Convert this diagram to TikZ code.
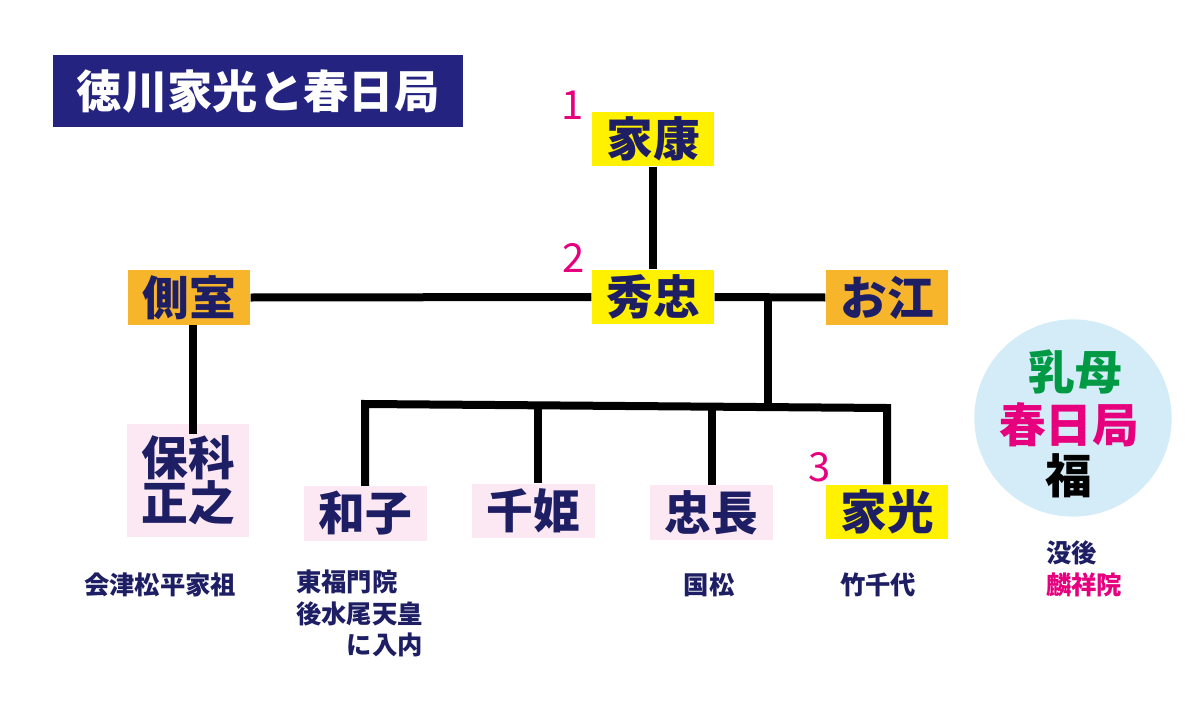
\documentclass[tikz,border=0pt]{standalone}
\usepackage{fontspec}
\setmainfont{Noto Sans CJK JP}
\definecolor{navy}{RGB}{30,30,100}
\definecolor{titlebg}{RGB}{36,36,128}
\definecolor{ylw}{RGB}{255,241,0}
\definecolor{org}{RGB}{247,181,44}
\definecolor{lpink}{RGB}{252,232,242}
\definecolor{mag}{RGB}{230,0,126}
\definecolor{grn}{RGB}{0,153,68}
\definecolor{lblue}{RGB}{212,236,248}
\tikzset{
  person/.style={inner sep=0pt, minimum width=92pt, minimum height=41pt, text=navy,
    font=\fontsize{35}{34}\selectfont\bfseries, align=center},
  mainline/.style={person, fill=ylw},
  spouse/.style={person, fill=org},
  child/.style={person, fill=lpink},
  num/.style={text=mag, font=\fontsize{30}{30}\selectfont, inner sep=0pt},
  note/.style={text=navy, font=\fontsize{19}{23}\selectfont\bfseries, inner sep=0pt},
  circtext/.style={font=\fontsize{35}{34}\selectfont\bfseries, inner sep=0pt},
  link/.style={line width=6pt, black},
}
\begin{document}
\begin{tikzpicture}[x=0.75pt,y=-0.75pt]
\useasboundingbox (0,0) rectangle (1200,721);
% title
\node[fill=titlebg, minimum width=307.5pt, minimum height=54pt, inner sep=0pt,
  text=white, font=\fontsize{34}{36}\selectfont\bfseries] (title) at (258,91) {徳川家光と春日局};
% people
\node[mainline] (ieyasu) at (653,139) {家康};
\node[mainline] (hidetada) at (653,297) {秀忠};
\node[spouse] (sokushitsu) at (189,297.5) {側室};
\node[spouse] (oe) at (887,297.5) {お江};
\node[child, minimum height=85pt] (hoshina) at (188,480.5) {保科\\正之};
\node[child] (kazuko) at (365.5,513.5) {和子};
\node[child] (senhime) at (533.5,511) {千姫};
\node[child] (tadanaga) at (711.5,512.5) {忠長};
\node[mainline] (iemitsu) at (887,512) {家光};
% numbers
\node[num] (n1) at (573,105) {1};
\node[num] (n2) at (574,258) {2};
\node[num] (n3) at (820,467) {3};
% connectors
\coordinate (m) at (768,296);
\coordinate (bar) at (768,405);
\coordinate (barL) at (365,404);
\coordinate (barR) at (887,408);
\coordinate (dSen) at (538,405);
\coordinate (dTad) at (712,406);
\coordinate (hEnd) at (193,434);
\draw[link] (ieyasu.south) -- (hidetada.north);
\draw[link] (sokushitsu.east) -- (hidetada.west);
\draw[link] (hidetada.east) -- (oe.west);
\draw[link] (m) -- (bar);
\draw[link] (barL |- kazuko.north) -- (barL) -- (barR) -- (barR |- iemitsu.north);
\draw[link] (dSen) -- (dSen |- senhime.north);
\draw[link] (dTad) -- (dTad |- tadanaga.north);
\draw[link] (sokushitsu.south -| hEnd) -- (hEnd);
% nurse circle
\node[circle, fill=lblue, minimum size=148pt, inner sep=0pt] (nurse) at (1073,418) {};
\node[circtext, text=grn] (menoto) at (1075,372) {乳母};
\node[circtext, text=mag] (kasuga) at (1069,425) {春日局};
\node[circtext, text=black] (fuku) at (1069,476) {福};
% notes
\node[note] (aizu) at (160,585) {会津松平家祖};
\node[note, anchor=west] (tofuku) at (296,582) {東福門院};
\node[note, anchor=west] (gomizuno) at (296,614) {後水尾天皇};
\node[note, anchor=east] (judai) at (423,645) {に入内};
\node[note] (kunimatsu) at (709,585) {国松};
\node[note] (takechiyo) at (878,585) {竹千代};
\node[note, anchor=west] (botsugo) at (1046,553) {没後};
\node[note, anchor=west, text=mag] (rinshoin) at (1046,585) {麟祥院};
\end{tikzpicture}
\end{document}
